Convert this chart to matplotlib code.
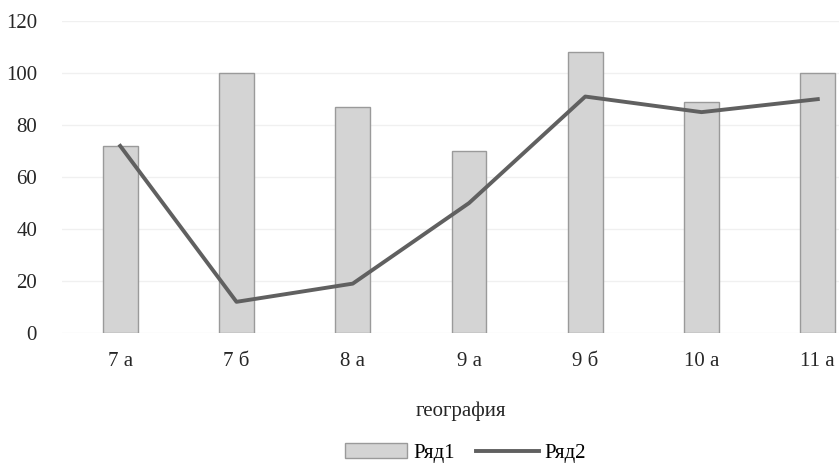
import matplotlib.pyplot as plt
import numpy as np

classes = ["7 а", "7 б", "8 а", "9 а", "9 б", "10 а", "11 а"]
ryad1 = [72, 100, 87, 70, 108, 89, 100]
ryad2 = [72, 12, 19, 50, 91, 85, 90]

plt.rcParams['font.family'] = ['Liberation Serif', 'DejaVu Serif']
plt.rcParams['hatch.color'] = "#c2c2c2"
plt.rcParams['hatch.linewidth'] = 0.6

fig = plt.figure(figsize=(8.39, 4.71), dpi=100)
ax = fig.add_axes([0.074, 0.293, 0.97, 0.662])

x = np.arange(len(classes))
bars = ax.bar(x, ryad1, width=0.3, color="#d4d4d4", edgecolor="#9a9a9a", linewidth=1.0,
              label="Ряд1", zorder=2)
line, = ax.plot(x, ryad2, color="#606060", linewidth=2.8, label="Ряд2", zorder=3)

ax.set_xlim(-0.5, len(classes) - 0.5)
ax.set_ylim(0, 120)
ax.set_yticks(range(0, 121, 20))
ax.set_xticks(x)
ax.set_xticklabels(classes)
ax.tick_params(axis="both", length=0, labelsize=15, colors="#262626")
ax.tick_params(axis="y", pad=18)
ax.tick_params(axis="x", pad=14)
ax.yaxis.grid(True, color="#f0f0f0", linewidth=1)
ax.set_axisbelow(True)
for s in ax.spines.values():
    s.set_visible(False)

ax.set_xlabel("география", fontsize=15, color="#262626")
ax.xaxis.set_label_coords(0.49, -0.22)

fig.legend(handles=[bars, line], labels=["Ряд1", "Ряд2"], loc="center",
           bbox_to_anchor=(0.555, 0.038), ncol=2, frameon=False,
           fontsize=15, handlelength=3.0, columnspacing=1.0, handletextpad=0.3)

fig.savefig("out.png", dpi=100)
